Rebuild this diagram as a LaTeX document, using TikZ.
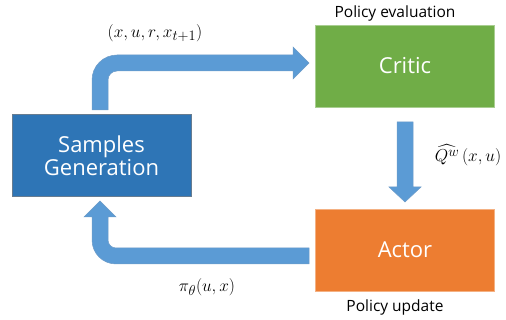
\documentclass[tikz,border=0pt]{standalone}
\usepackage{fontspec}
\setmainfont{Open Sans}
\usepackage{amsmath}
\definecolor{sampblue}{HTML}{2E75B6}
\definecolor{critgreen}{HTML}{70AD47}
\definecolor{actorange}{HTML}{ED7D31}
\definecolor{arrblue}{HTML}{5B9BD5}
\definecolor{arredge}{HTML}{6E9CC8}
\begin{document}
\begin{tikzpicture}[x=1pt,y=-1pt,
  box/.style={minimum width=179pt,minimum height=82pt,inner sep=0pt,text=white,font=\fontsize{22}{26}\selectfont,align=center,line width=0.6pt},
  blockarrow/.style={fill=arrblue,draw=arredge,line width=0.5pt},
  caption/.style={font=\fontsize{15.5}{18}\selectfont,inner sep=0pt},
  mlabel/.style={font=\fontsize{19}{22}\selectfont,inner sep=0pt}]
\useasboundingbox (0,0) rectangle (506,320);
\node[box,fill=sampblue,draw=gray!70!sampblue] (samples) at (101.5,155.5) {Samples\\[-3pt]Generation};
\node[box,fill=critgreen,draw=critgreen!60!white] (critic) at (405,66) {Critic};
\node[box,fill=actorange,draw=actorange!60!white] (actor) at (405,250) {Actor};
\node[caption] (peval) at (395,13) {Policy evaluation};
\node[caption] (pupd) at (395,307) {Policy update};
% top arrow
\draw[blockarrow] (92,110) -- (92,80) .. controls (92,66.2) and (103.2,55) .. (117,55)
  -- (293,55) -- (293,47) -- (309,63) -- (293,79) -- (293,71) -- (117,71)
  .. controls (112,71) and (108,75) .. (108,80) -- (108,110) -- cycle;
% down arrow
\draw[blockarrow] (397,122) -- (413,122) -- (413,187) -- (421,187) -- (405,202) -- (389,187) -- (397,187) -- cycle;
% bottom arrow
\draw[blockarrow] (309,248) -- (116,248) .. controls (111.6,248) and (108,244.4) .. (108,240)
  -- (108,217) -- (116,217) -- (100,201) -- (84,217) -- (92,217) -- (92,240)
  .. controls (92,253.3) and (102.7,264) .. (116,264) -- (309,264) -- cycle;
\node[mlabel] (lab1) at (155,33) {$(x,u,r,x_{t+1})$};
\node[mlabel] (lab2) at (468,155) {$\widehat{Q^{w}}\,(x,u)$};
\node[mlabel] (lab3) at (207,287) {$\pi_{\theta}(u,x)$};
\end{tikzpicture}
\end{document}
